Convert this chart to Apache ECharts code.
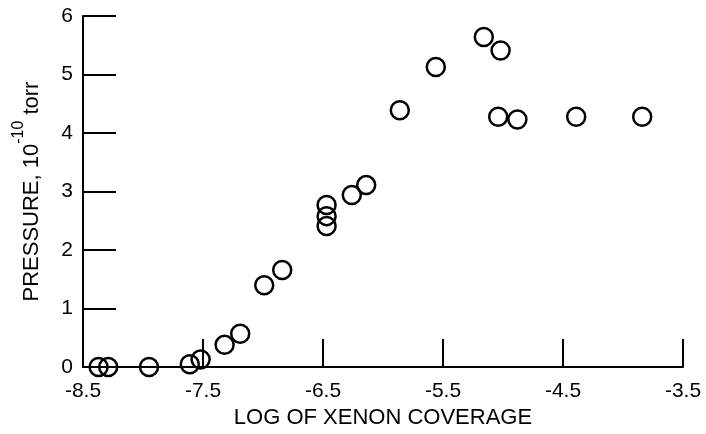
<!DOCTYPE html>
<html>
<head>
<meta charset="utf-8">
<script src="https://cdn.jsdelivr.net/npm/echarts@6/dist/echarts.min.js"></script>
<style>
    html, body { margin: 0; padding: 0; background: #fff; }
    #main { width: 706px; height: 434px; }
</style>
</head>
<body>
<div id="main"></div>
<script type="text/javascript">
    // 读图得到的数据
    var logCoverage = [-8.37, -8.29, -7.95, -7.61, -7.52, -7.32, -7.19, -6.99, -6.84,
        -6.47, -6.47, -6.47, -6.26, -6.14, -5.86, -5.56, -5.16, -5.02, -5.04, -4.88, -4.39, -3.84];
    var pressure = [0, 0, 0, 0.05, 0.13, 0.38, 0.57, 1.40, 1.66,
        2.77, 2.58, 2.41, 2.94, 3.11, 4.39, 5.13, 5.64, 5.41, 4.28, 4.23, 4.28, 4.28];
    var xTicks = [-8.5, -7.5, -6.5, -5.5, -4.5, -3.5];
    var yTicks = [0, 1, 2, 3, 4, 5, 6];

    var points = [];
    for (var i = 0; i < logCoverage.length; i++) {
        points.push([logCoverage[i], pressure[i]]);
    }

    var font = 'Liberation Sans';
    var myChart = echarts.init(document.getElementById('main'));
    myChart.setOption({
        animation: false,
        backgroundColor: '#fff',
        grid: {
            left: 83,
            right: 23,
            top: 16,
            bottom: 66
        },
        xAxis: {
            type: 'value',
            min: -8.5,
            max: -3.5,
            name: 'LOG OF XENON COVERAGE',
            nameLocation: 'middle',
            nameGap: 35,
            nameTextStyle: { color: '#000', fontSize: 22, fontFamily: font },
            axisLine: { lineStyle: { color: '#000', width: 2 } },
            axisTick: {
                inside: true,
                length: 28,
                lineStyle: { color: '#000', width: 2 },
                customValues: xTicks
            },
            axisLabel: {
                color: '#000',
                fontSize: 21,
                fontFamily: font,
                margin: 14,
                customValues: xTicks,
                formatter: function (v) { return v.toFixed(1); }
            },
            splitLine: { show: false }
        },
        yAxis: {
            type: 'value',
            min: 0,
            max: 6,
            interval: 1,
            name: '{a|PRESSURE, 10}{sup|-10}{a| torr}',
            nameLocation: 'middle',
            nameGap: 40,
            nameTextStyle: {
                color: '#000',
                fontSize: 22,
                fontFamily: font,
                rich: {
                    a: { fontSize: 22, fontFamily: font, color: '#000', verticalAlign: 'bottom', lineHeight: 32 },
                    sup: { fontSize: 16, fontFamily: font, color: '#000', verticalAlign: 'top', lineHeight: 32 }
                }
            },
            axisLine: { lineStyle: { color: '#000', width: 2 } },
            axisTick: {
                inside: true,
                length: 33,
                lineStyle: { color: '#000', width: 2 }
            },
            axisLabel: {
                color: '#000',
                fontSize: 21,
                fontFamily: font,
                margin: 10,
                customValues: yTicks
            },
            splitLine: { show: false }
        },
        series: [
            {
                type: 'scatter',
                data: points,
                symbol: 'circle',
                symbolSize: 18,
                itemStyle: {
                    color: 'rgba(255,255,255,0)',
                    borderColor: '#000',
                    borderWidth: 2.5,
                    opacity: 1
                }
            }
        ]
    });
</script>
</body>
</html>
